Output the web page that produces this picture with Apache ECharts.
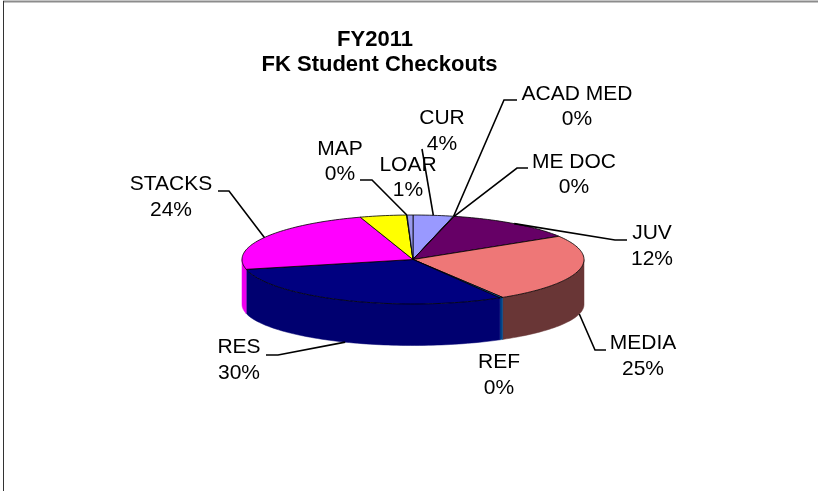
<!DOCTYPE html>
<html>
<head>
<meta charset="utf-8">
<style>html,body{margin:0;padding:0;background:#fff}#c{width:818px;height:491px}</style>
<script src="https://cdn.jsdelivr.net/npm/echarts@6/dist/echarts.min.js"></script>
</head>
<body>
<div id="c"></div>
<script>
// Data, clockwise from 12 o'clock. The yellow slice carries no label in the source.
var categories = ['CUR', 'ACAD MED', 'ME DOC', 'JUV', 'MEDIA', 'REF', 'RES', 'STACKS', '', 'MAP', 'LOAR'];
var values = [3.8, 0.05, 0.05, 12.4, 25, 0.3, 30.0, 23.6, 4.4, 0.05, 0.55];

// Styles
var topColors = ['#9999FF', '#993366', '#FFFFCC', '#660066', '#EE7777', '#0066CC', '#000080', '#FF00FF', '#FFFF00', '#00FFFF', '#9999EE'];
var sideColors = ['#666699', '#662244', '#999977', '#440044', '#693636', '#004488', '#000070', '#EE00EE', '#999900', '#009999', '#666699'];

// Pie geometry: the lower rim is a slightly flatter ellipse, as in a perspective view
var pie = { cx: 413, cy: 259.5, rx: 171, ry: 44.5, lowerDrop: 45, lowerRy: 41 };

// Label layout: text centre and leader route (elbow, end). Leader starts are computed from the slice.
var labelLayout = {
  'CUR':      { x: 442, y: 131, route: [[422, 149]] },
  'ACAD MED': { x: 577, y: 106.5, route: [[504, 100], [517, 100]] },
  'ME DOC':   { x: 574, y: 174.5, route: [[517, 168], [528, 168]] },
  'JUV':      { x: 652, y: 246, route: [[615, 240], [627, 240]] },
  'MEDIA':    { x: 643, y: 356, route: [[595, 350], [606, 350]] },
  'REF':      { x: 499, y: 375 },
  'RES':      { x: 239, y: 360, route: [[278, 355], [266, 355]] },
  'STACKS':   { x: 171, y: 197, route: [[229, 191], [218, 191]] },
  'MAP':      { x: 340, y: 161.5, route: [[372, 180], [360, 180]] },
  'LOAR':     { x: 408, y: 177.5 }
};

var total = values.reduce(function (a, b) { return a + b; }, 0);
var FONT = '21px "Liberation Sans", Arial, sans-serif';

function rimPoint(deg, lower) {
  var a = deg * Math.PI / 180;
  var ry = lower ? pie.lowerRy : pie.ry;
  return [pie.cx + pie.rx * Math.sin(a), pie.cy + (lower ? pie.lowerDrop : 0) - ry * Math.cos(a)];
}
function arcPoints(a0, a1, lower) {
  var pts = [], n = Math.max(2, Math.ceil(Math.abs(a1 - a0) / 1.5));
  for (var i = 0; i <= n; i++) pts.push(rimPoint(a0 + (a1 - a0) * i / n, lower));
  return pts;
}

function renderItem(params, api) {
  var i = params.dataIndex, before = 0;
  for (var k = 0; k < i; k++) before += values[k];
  var a0 = before / total * 360, a1 = (before + values[i]) / total * 360, mid = (a0 + a1) / 2;
  var children = [];

  // Visible outer wall: only the front half, 90 to 270 degrees
  var s0 = Math.max(a0, 90), s1 = Math.min(a1, 270);
  if (s1 > s0) {
    children.push({
      type: 'polygon', z2: 1,
      shape: { points: arcPoints(s0, s1, false).concat(arcPoints(s1, s0, true)) },
      style: { fill: sideColors[i], stroke: sideColors[i], lineWidth: 0.5 }
    });
  }
  // Top face
  children.push({
    type: 'polygon', z2: 2,
    shape: { points: [[pie.cx, pie.cy]].concat(arcPoints(a0, a1, false)) },
    style: { fill: topColors[i], stroke: '#000', lineWidth: 0.8 }
  });

  // Label and leader
  var name = categories[i], layout = labelLayout[name];
  if (layout) {
    children.push({
      type: 'text', z2: 5,
      style: {
        text: name + '\n' + Math.round(values[i] / total * 100) + '%',
        x: layout.x, y: layout.y, align: 'center', verticalAlign: 'middle',
        font: FONT, lineHeight: 25.5, fill: '#000'
      }
    });
    if (layout.route) {
      var front = mid > 90 && mid < 270;
      var start = rimPoint(mid, front);
      children.push({
        type: 'polyline', z2: 6,
        shape: { points: [start].concat(layout.route) },
        style: { fill: 'none', stroke: '#000', lineWidth: 1.6 }
      });
    }
  }
  return { type: 'group', children: children };
}

var chart = echarts.init(document.getElementById('c'), null, { renderer: 'canvas' });
var titleStyle = { fontFamily: '"Liberation Sans", Arial, sans-serif', fontWeight: 'bold', fontSize: 22, color: '#000' };
chart.setOption({
  animation: false,
  backgroundColor: '#fff',
  title: [
    { text: 'FY2011', left: 370, top: 24, textAlign: 'center', textStyle: titleStyle },
    { text: 'FK Student Checkouts', left: 374.5, top: 49, textAlign: 'center', textStyle: titleStyle }
  ],
  graphic: [
    { type: 'line', shape: { x1: 3, y1: 1.5, x2: 818, y2: 1.5 }, style: { stroke: '#8c8c8c', lineWidth: 2 } },
    { type: 'line', shape: { x1: 3.5, y1: 1, x2: 3.5, y2: 491 }, style: { stroke: '#333', lineWidth: 1 } }
  ],
  series: [{
    type: 'custom',
    coordinateSystem: 'none',
    renderItem: renderItem,
    data: values.map(function (v, i) { return { name: categories[i], value: v }; })
  }]
});
</script>
</body>
</html>
